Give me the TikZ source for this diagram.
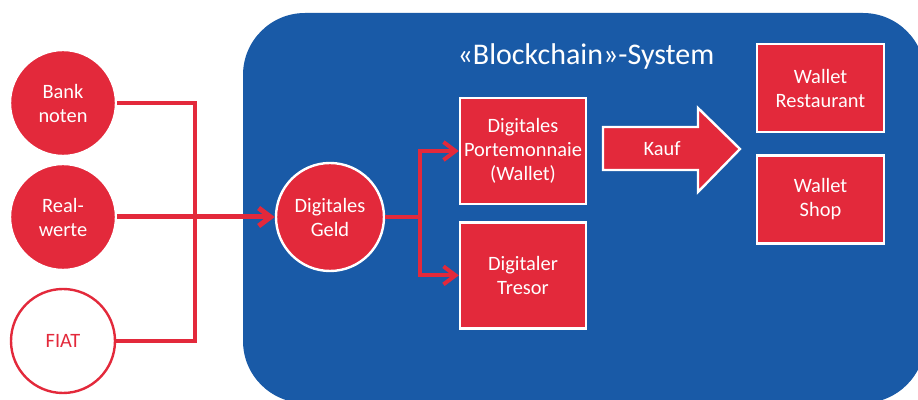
\documentclass[tikz,border=0pt]{standalone}
\usepackage{fontspec}
\setmainfont{Carlito}
\usetikzlibrary{arrows.meta,positioning}
\definecolor{sysblue}{RGB}{25,90,167}
\definecolor{sysred}{RGB}{227,41,59}
\tikzset{
  redcircle/.style={circle,fill=sysred,draw=white,line width=1.2pt,minimum size=53pt,inner sep=0pt,text=white,align=center,font=\fontsize{10.2}{12}\selectfont},
  fiatcircle/.style={circle,fill=white,draw=sysred,line width=1.2pt,minimum size=52pt,inner sep=0pt,text=sysred,align=center,font=\fontsize{10.2}{12}\selectfont},
  redbox/.style={rectangle,fill=sysred,draw=white,line width=1.2pt,inner sep=0pt,text=white,align=center,font=\fontsize{10.2}{12}\selectfont},
  redline/.style={draw=sysred,line width=2pt},
  redarrow/.style={draw=sysred,line width=2pt,-{Straight Barb[length=6pt,width=9pt]}}
}
\begin{document}
\begin{tikzpicture}[x=0.5pt,y=0.5pt]
\useasboundingbox (0,0) rectangle (918,-400);
\begin{scope}
\clip (0,0) rectangle (918,-400);
\fill[white] (0,0) rectangle (918,-400);
\fill[sysblue,rounded corners=31pt] (243,-13) rectangle (925,-403);

\node [anchor=center,text=white,font=\fontsize{15}{18}\selectfont] (node0) at (586,-57) {«Blockchain»-System};

\node [redcircle] (node1) at (63,-103) {Bank\\noten};
\node [redcircle] (node2) at (63,-217) {Real-\\werte};
\node [fiatcircle] (node3) at (63,-341) {FIAT};

\node [redcircle,minimum size=54pt] (node4) at (330,-217) {Digitales\\Geld};
\coordinate (c1) at (195,-217);
\draw[redline,line join=miter] (node1.east) -| (c1) |- (node3.east);
\draw[redarrow,line width=2.5pt] (node2.east) -- (node4.west);

\node [redbox,minimum width=63pt,minimum height=53pt] (node5) at (523,-151) {Digitales\\Portemonnaie\\(Wallet)};
\node [redbox,minimum width=63pt,minimum height=53pt,anchor=north] (node6) at ([yshift=-8pt]node5.south) {Digitaler\\Tresor};
\coordinate (c2) at (420,-217);
\draw[redline] (node4.east) -- (c2);
\draw[redarrow] (c2) |- (node5.west);
\draw[redarrow] (c2) |- (node6.west);

% Kauf
\filldraw[fill=sysred,draw=white,line width=1.2pt,line join=miter] (603,-127) -- (698,-127) -- (698,-108) -- (740,-149) -- (698,-192) -- (698,-170) -- (603,-170) -- cycle;
\node [text=white,font=\fontsize{10.2}{12}\selectfont] (node7) at (662,-149) {Kauf};

\node [redbox,minimum width=63.5pt,minimum height=44pt] (node8) at (820.5,-88) {Wallet\\Restaurant};
\node [redbox,minimum width=63.5pt,minimum height=44pt,anchor=north] (node9) at ([yshift=-10.5pt]node8.south) {Wallet\\Shop};
\end{scope}
\end{tikzpicture}
\end{document}
